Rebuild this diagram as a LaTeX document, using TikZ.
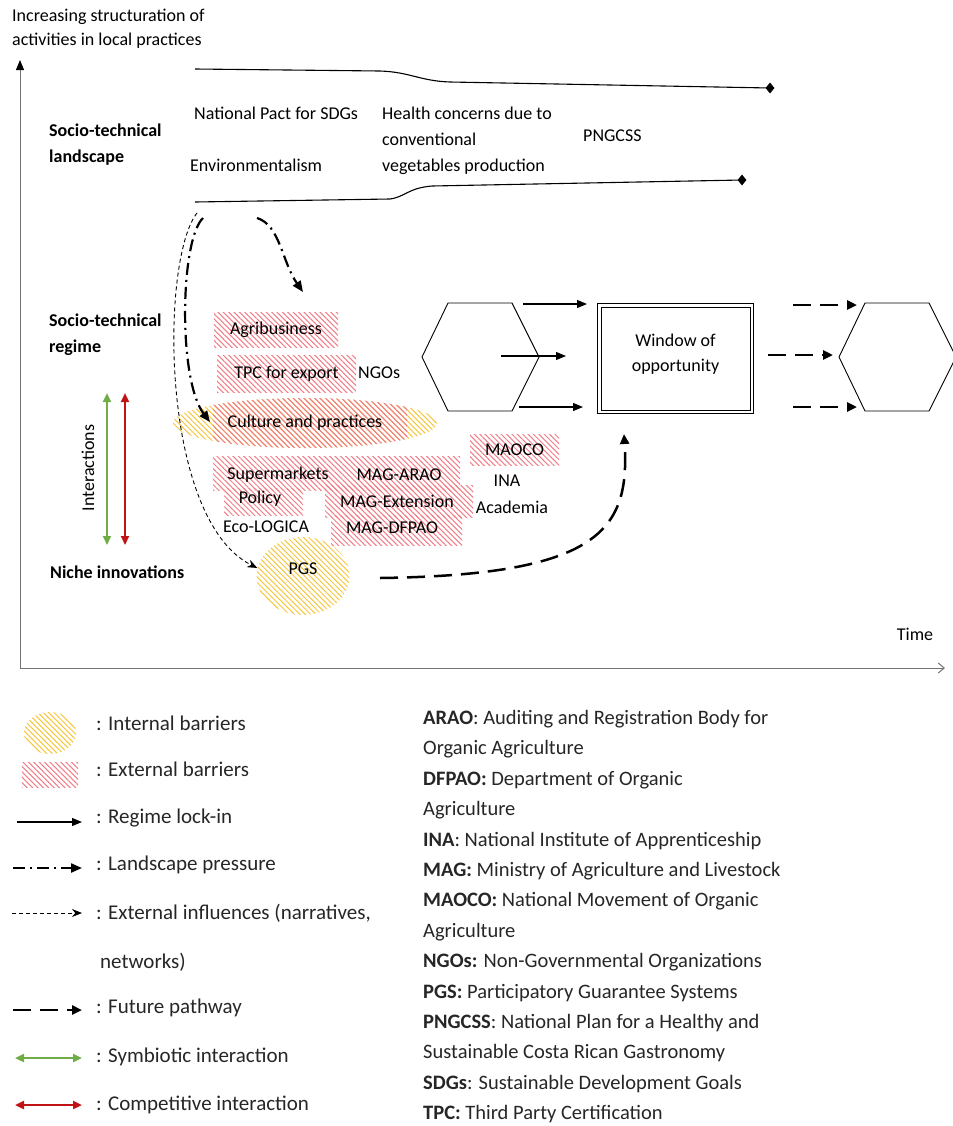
\documentclass[tikz,border=0pt]{standalone}
\usepackage{fontspec}
\setmainfont{Carlito}
\usetikzlibrary{arrows.meta,shapes.geometric,patterns.meta}

\definecolor{hatchred}{RGB}{240,125,135}
\definecolor{hatchyel}{RGB}{245,198,60}
\definecolor{symgreen}{RGB}{112,173,71}
\definecolor{compred}{RGB}{192,20,20}

\begin{document}
\begin{tikzpicture}[x=1bp,y=-1bp,
 lbl/.style={inner sep=0pt,font=\fontsize{18bp}{24bp}\selectfont},
 bld/.style={inner sep=0pt,align=left,font=\fontsize{18bp}{26bp}\selectfont\bfseries},
 legtxt/.style={inner sep=0pt,anchor=west,font=\fontsize{21bp}{25bp}\selectfont,text=black!85},
 abbr/.style={inner sep=0pt,anchor=base west,font=\fontsize{20.5bp}{25bp}\selectfont,text=black!85},
 extbar/.style={pattern={Lines[angle=-45,distance=3.8bp,line width=1bp]},pattern color=hatchred},
 intbar/.style={pattern={Lines[angle=-45,distance=3.8bp,line width=1bp]},pattern color=hatchyel},
 axis/.style={line width=1bp,black!55},
 land/.style={line width=1.1bp},
 diam/.style={diamond,fill=black,inner sep=0pt,minimum width=9bp,minimum height=11bp},
 hexline/.style={line width=0.9bp},
 win/.style={draw,double,double distance=2.5bp,line width=1bp,minimum width=152.5bp,minimum height=106.5bp,align=center,inner sep=0pt,font=\fontsize{18bp}{25bp}\selectfont},
 lockin/.style={-{Triangle[length=10bp,width=8bp]},line width=1.1bp},
 lpress/.style={-{Triangle[length=11bp,width=9bp]},line width=2.2bp,dash pattern=on 12bp off 5bp on 2bp off 5bp},
 extinf/.style={-{Stealth[length=10bp,width=8bp]},line width=0.9bp,dash pattern=on 4bp off 3bp},
 future/.style={-{Triangle[length=10bp,width=9bp]},line width=2.5bp,dash pattern=on 18bp off 9bp},
 inter/.style={{Triangle[length=9bp,width=8bp]}-{Triangle[length=9bp,width=8bp]},line width=2.2bp}
]
\useasboundingbox (0,0) rectangle (953,1126);

%Axes
\coordinate (orig) at (20,668); \coordinate (ytop) at (20,60); \coordinate (xend) at (945,668);
\draw[axis,-{Triangle[length=10bp,width=8bp,black]}] (orig)--(ytop); \draw[axis,-{Straight Barb[length=6bp,width=10bp]}] (orig)--(xend);
\node[lbl,anchor=north west,align=left] (ytitle) at (12,8.5) {Increasing structuration of\\activities in local practices};
\node[lbl] (time) at (915,634) {Time};

%Landscape
\coordinate (topstart) at (195,69); \coordinate (botstart) at (195,202);
\node[diam] (topend) at (770,88) {}; \node[diam] (botend) at (742,180) {};
\draw[land] (topstart)--(380,71) .. controls (410,72) and (420,81) .. (450,82)--(topend.center);
\draw[land] (botstart)--(390,199) .. controls (405,197) and (408,188) .. (432,186)--(botend.center);
\node[bld,anchor=north west] (landsc) at (49,124) {Socio-technical\\landscape};
\node[lbl,anchor=west] (pact) at (194,113) {National Pact for SDGs};
\node[lbl,anchor=west] (envir) at (190,165) {Environmentalism};
\node[lbl,anchor=north west,align=left,font=\fontsize{18bp}{26bp}\selectfont] (health) at (382,107) {Health concerns due to\\conventional\\vegetables production};
\node[lbl,anchor=west] (pngcss) at (583,136) {PNGCSS};

%Regime
\node[bld,anchor=north west] (regim) at (49,314) {Socio-technical\\regime};
\node[lbl,extbar,minimum width=124bp,minimum height=35bp] (agri) at (276,329.5) {Agribusiness};
\node[lbl,extbar,minimum width=139bp,minimum height=37bp] (tpc) at (286.5,373.5) {TPC for export};
\node[lbl,anchor=west] (ngo) at (358,373) {NGOs};
\node[intbar,ellipse,minimum width=264bp,minimum height=50bp,inner sep=0pt] (culture) at (305,423) {};
\begin{scope} \clip (culture.center) ellipse [x radius=132,y radius=25]; \fill[extbar] (213,396) rectangle (407,450); \end{scope}
\node[lbl] (culttxt) at (305,423) {Culture and practices};

\coordinate (regime) at (480.5,357); \coordinate (newregime) at (897.5,357);
\draw[hexline] (regime) ++(-58.5,0) -- ++(26,-54) -- ++(64,0) -- ++(27,54) -- ++(-27,54) -- ++(-64,0) -- cycle;
\draw[hexline] (newregime) ++(-58.5,0) -- ++(26,-54) -- ++(64,0) -- ++(27,54) -- ++(-27,54) -- ++(-64,0) -- cycle;
\node[win,text height=36bp,text depth=10bp] (window) at (675.5,358.5) {Window of\\opportunity};

\foreach \a/\b/\y [count=\i] in {523/587/304, 501/566/356, 519/583/407}
 {\coordinate (ls\i) at (\a,\y); \coordinate (le\i) at (\b,\y); \draw[lockin] (ls\i)--(le\i);}
\foreach \a/\b/\y [count=\i] in {793/857/305, 768/833/355, 793/857/407}
 {\coordinate (fs\i) at (\a,\y); \coordinate (fe\i) at (\b,\y); \draw[future] (fs\i)--(fe\i);}

%Niche and barriers
\fill[extbar] (213,456) rectangle (460,490); \fill[extbar] (224,488) rectangle (303,515);
\fill[extbar] (325,485) rectangle (473,517); \fill[extbar] (331,515) rectangle (462,545);
\node[lbl,extbar,minimum width=89bp,minimum height=31bp] (maoco) at (514.5,449.5) {MAOCO};
\node[lbl] (superm) at (278,475) {Supermarkets}; \node[lbl] (magarao) at (399,475) {MAG-ARAO};
\node[lbl] (policy) at (260,499) {Policy}; \node[lbl] (magext) at (397,501) {MAG-Extension};
\node[lbl] (ecolog) at (266,527) {Eco-LOGICA}; \node[lbl] (magdfp) at (392,528) {MAG-DFPAO};
\node[lbl] (ina) at (507,481) {INA}; \node[lbl] (acad) at (512,507) {Academia};
\node[lbl,intbar,ellipse,minimum width=93bp,minimum height=78bp,text height=12bp,text depth=16bp] (pgs) at (303,576) {PGS};
\node[bld,anchor=west] (niche) at (50,572) {Niche innovations};

\coordinate (gt) at (107,393); \coordinate (gb) at (107,545); \coordinate (rt) at (125,393); \coordinate (rb) at (125,545);
\draw[inter,symgreen] (gt)--(gb); \draw[inter,compred] (rt)--(rb);
\node[lbl,rotate=90] (interact) at (88,468) {Interactions};

%Pressures and pathways
\coordinate (lp1s) at (257,218); \coordinate (lp1e) at (303,292); \coordinate (lp2s) at (203,218); \coordinate (lp2e) at (210,422);
\coordinate (ex1s) at (197,213); \coordinate (fps) at (380,578); \coordinate (fpe) at (624,434);
\draw[lpress] (lp1s) .. controls (280,225) and (282,262) .. (lp1e);
\draw[lpress] (lp2s) .. controls (180,240) and (178,380) .. (lp2e);
\draw[extinf] (ex1s) .. controls (160,260) and (160,520) .. (pgs.170);
\draw[future] (fps) .. controls (600,575) and (630,530) .. (fpe);

%Legend
\node[intbar,ellipse,minimum width=52bp,minimum height=42bp,inner sep=0pt] (legint) at (50,733) {};
\node[extbar,minimum width=56bp,minimum height=25bp,inner sep=0pt] (legext) at (50,774.5) {};
\node[legtxt] (tint) at (96,723) {: Internal barriers}; \node[legtxt] (text) at (96,769) {: External barriers};
\coordinate (k1) at (17,822); \coordinate (k2) at (82,822); \draw[lockin] (k1)--(k2); \node[legtxt] (tlock) at (96,818) {: Regime lock-in};
\coordinate (k3) at (13,868); \coordinate (k4) at (82,868); \draw[lpress] (k3)--(k4); \node[legtxt] (tpress) at (96,865) {: Landscape pressure};
\coordinate (k5) at (12,913); \coordinate (k6) at (82,913); \draw[extinf] (k5)--(k6); \node[legtxt] (tinfl) at (96,913) {: External influences (narratives,};
\node[legtxt] (tnet) at (100,962) {networks)};
\coordinate (k7) at (13,1010); \coordinate (k8) at (82,1010); \draw[future] (k7)--(k8); \node[legtxt] (tfut) at (96,1008) {: Future pathway};
\coordinate (k9) at (15,1058); \coordinate (k10) at (82,1058); \draw[inter,symgreen] (k9)--(k10); \node[legtxt] (tsym) at (96,1057) {: Symbiotic interaction};
\coordinate (k11) at (15,1105); \coordinate (k12) at (82,1105); \draw[inter,compred] (k11)--(k12); \node[legtxt] (tcomp) at (96,1105) {: Competitive interaction};

\foreach \t [count=\i] in {{\textbf{ARAO}: Auditing and Registration Body for}, {Organic Agriculture},
 {\textbf{DFPAO:} Department of Organic}, {Agriculture}, {\textbf{INA}: National Institute of Apprenticeship},
 {\textbf{MAG:} Ministry of Agriculture and Livestock}, {\textbf{MAOCO:} National Movement of Organic}, {Agriculture},
 {\textbf{NGOs:} Non-Governmental Organizations}, {\textbf{PGS:} Participatory Guarantee Systems},
 {\textbf{PNGCSS}: National Plan for a Healthy and}, {Sustainable Costa Rican Gastronomy},
 {\textbf{SDGs}: Sustainable Development Goals}, {\textbf{TPC:} Third Party Certification}}
 \node[abbr] (abbr\i) at (423,694.1+30.4*\i) {\t};

\end{tikzpicture}
\end{document}
